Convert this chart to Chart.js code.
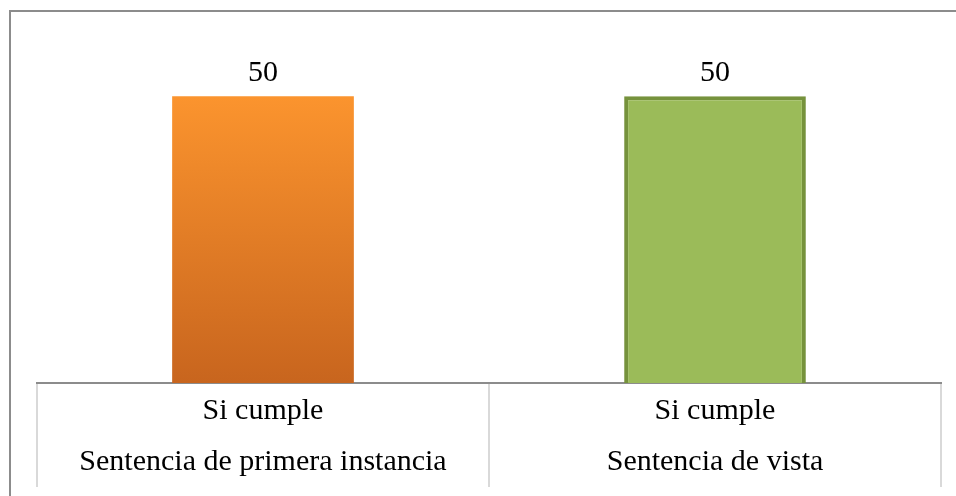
<!DOCTYPE html>
<html>
<head>
<meta charset="utf-8">
<script src="https://cdn.jsdelivr.net/npm/chart.js@4.4.1/dist/chart.umd.min.js"></script>
<style>
  html, body { margin: 0; padding: 0; background: #fff; overflow: hidden; }
  #frame { position: absolute; left: 9px; top: 10px; width: 1000px; height: 600px; border: 2px solid #8c8c8c; box-sizing: border-box; }
  #wrap { position: absolute; left: 0; top: 0; width: 956px; height: 496px; }
</style>
</head>
<body>
<div id="frame"></div>
<div id="wrap"><canvas id="chart"></canvas></div>
<script>
// categories (two-line labels in the axis table)
const categories = [
  ['Si cumple', 'Sentencia de primera instancia'],
  ['Si cumple', 'Sentencia de vista']
];
const values = [50, 50];
const yMax = 60;

const serif = "'Liberation Serif', 'Times New Roman', serif";

// orange gradient for first bar, flat green for second
function barFill(ctx) {
  if (ctx.dataIndex !== 0) return '#9bbb59';
  const chart = ctx.chart;
  const area = chart.chartArea;
  if (!area) return '#f7922e';
  const top = chart.scales.y.getPixelForValue(values[0]);
  const g = chart.ctx.createLinearGradient(0, top, 0, area.bottom);
  g.addColorStop(0, '#fb942e');
  g.addColorStop(1, '#c8651e');
  return g;
}

// value labels above each bar
const valueLabels = {
  id: 'valueLabels',
  afterDatasetsDraw(chart) {
    const ctx = chart.ctx;
    ctx.save();
    ctx.font = '30px ' + serif;
    ctx.fillStyle = '#000';
    ctx.textAlign = 'center';
    ctx.textBaseline = 'middle';
    chart.getDatasetMeta(0).data.forEach((bar, i) => {
      ctx.fillText(String(values[i]), bar.x, bar.y - 23);
    });
    ctx.restore();
  }
};

new Chart(document.getElementById('chart'), {
  type: 'bar',
  data: {
    labels: categories,
    datasets: [{
      data: values,
      backgroundColor: barFill,
      borderColor: ['rgba(0,0,0,0)', '#76923c'],
      borderWidth: [0, 4],
      barPercentage: 0.402,
      categoryPercentage: 1
    }]
  },
  options: {
    responsive: true,
    maintainAspectRatio: false,
    animation: false,
    layout: { padding: { left: 37, right: 15, top: 39, bottom: 0 } },
    plugins: { legend: { display: false }, tooltip: { enabled: false } },
    scales: {
      y: { display: false, min: 0, max: yMax },
      x: {
        afterFit(scale) { scale.height = 113; },
        border: { color: '#8c8c8c', width: 2 },
        grid: { offset: true, drawOnChartArea: false, drawTicks: true, tickLength: 104, color: '#d9d9d9', lineWidth: 2 },
        ticks: {
          padding: -101,
          color: '#000',
          autoSkip: false,
          maxRotation: 0,
          font: { family: serif, size: 30, lineHeight: '51px' }
        }
      }
    }
  },
  plugins: [valueLabels]
});
</script>
</body>
</html>
